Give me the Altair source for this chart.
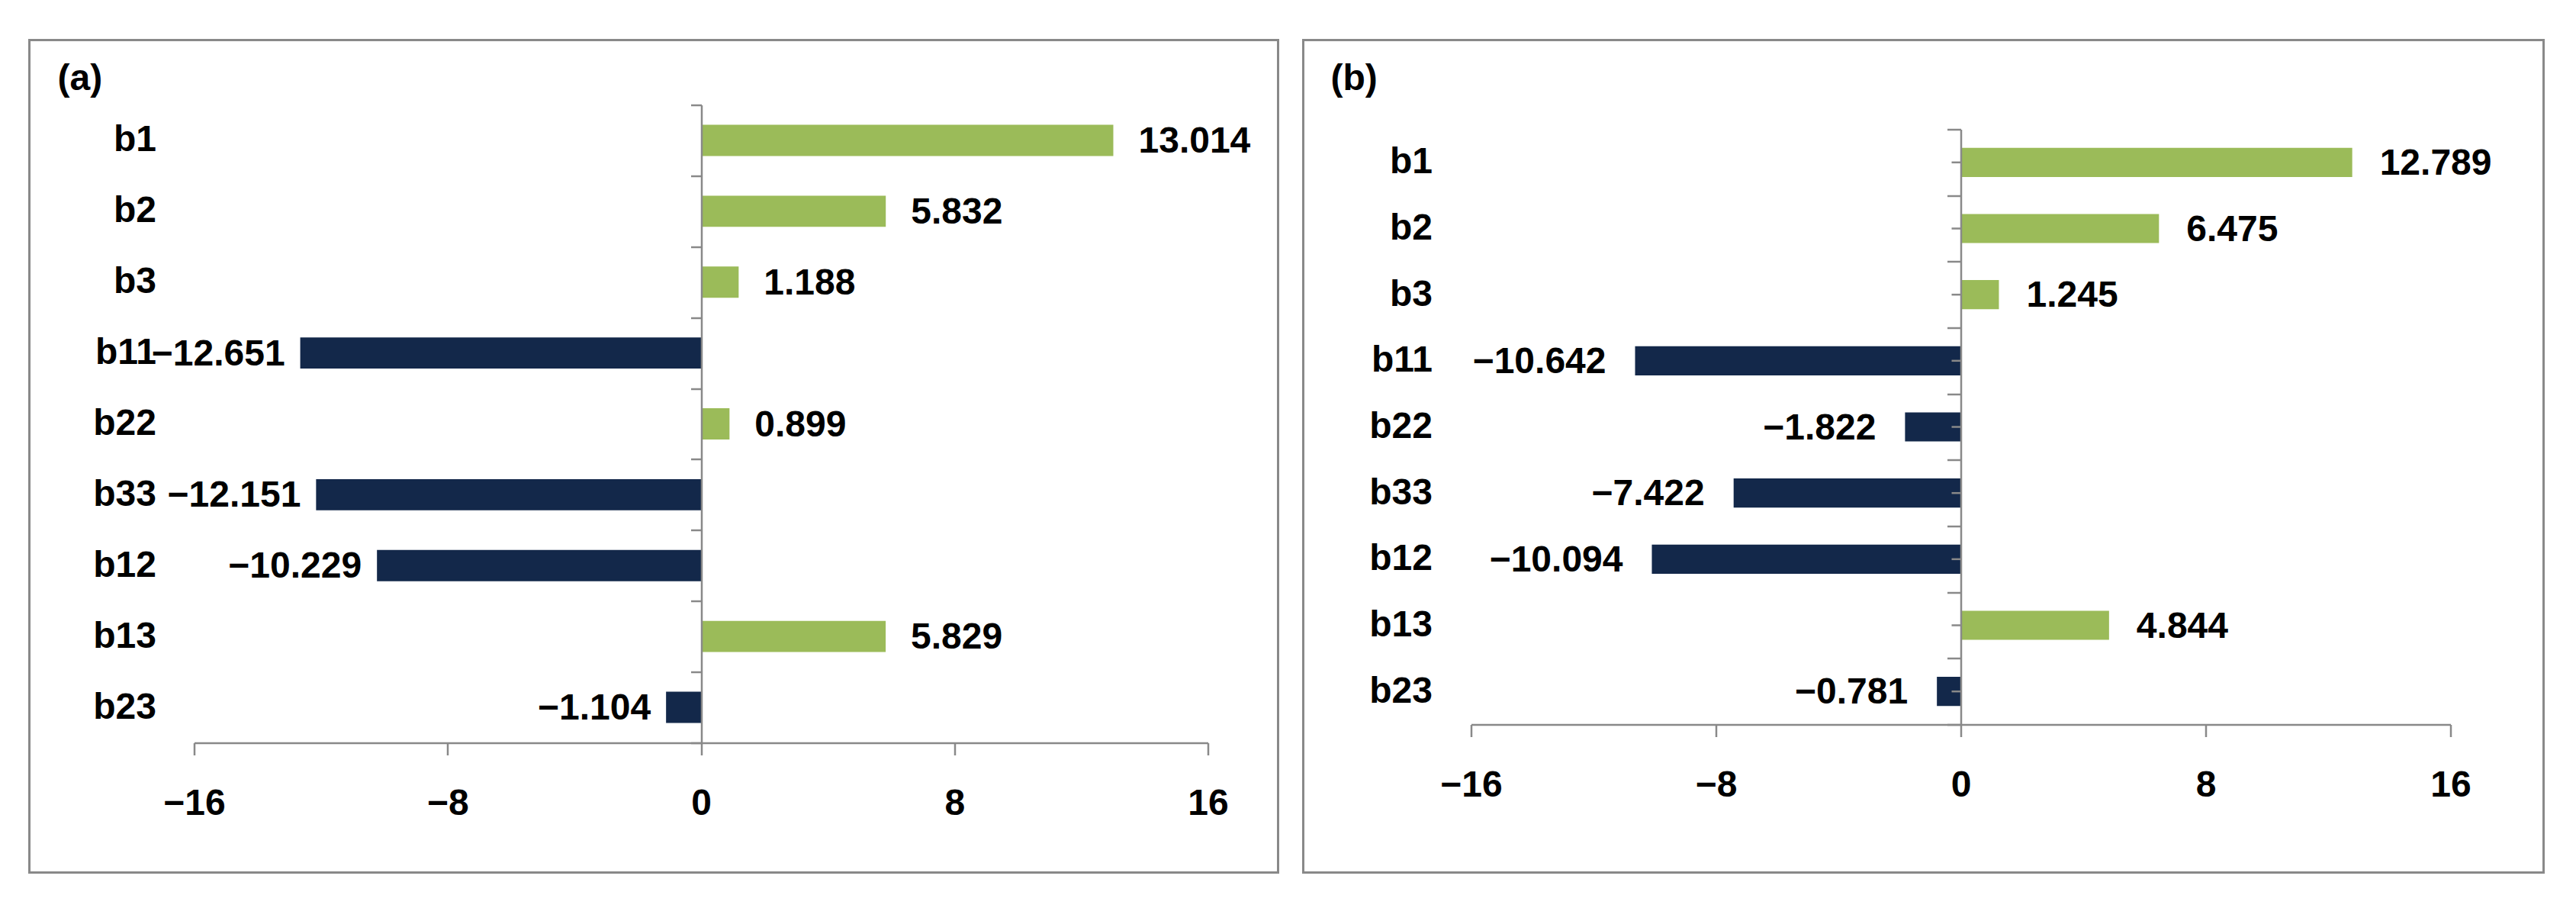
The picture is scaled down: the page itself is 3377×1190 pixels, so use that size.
import altair as alt
import pandas as pd

# ---- data ----
categories = ["b1", "b2", "b3", "b11", "b22", "b33", "b12", "b13", "b23"]
values_a = [13.014, 5.832, 1.188, -12.651, 0.899, -12.151, -10.229, 5.829, -1.104]
values_b = [12.789, 6.475, 1.245, -10.642, -1.822, -7.422, -10.094, 4.844, -0.781]
x_ticks = [-16, -8, 0, 8, 16]
panel_labels = ["(a)", "(b)"]

GREEN = "#9BBB59"
NAVY = "#13284A"
GRAY = "#898989"
FONT = "Liberation Sans"
FS = 48
BAR_BAND = 0.44


def panel(values, label, width, height, shift, zero_px, frame, label_xy,
          y_tick, y_label_pad, pos_dx, neg_dx, center_ticks):
    df = pd.DataFrame({"cat": categories, "value": values})
    base = alt.Chart(df)
    one = alt.Chart(pd.DataFrame({"k": [0]}))

    y_scale = alt.Scale(paddingInner=0, paddingOuter=0)
    x_scale = alt.Scale(domain=[x_ticks[0], x_ticks[-1]], nice=False, zero=False)

    x_axis = alt.Axis(values=x_ticks, title=None, format="d", grid=False,
                      tickSize=16, tickWidth=2.5, tickColor=GRAY,
                      domainColor=GRAY, domainWidth=2.5, labelPadding=40,
                      labelFlush=False, labelOverlap=False, labelFont=FONT,
                      labelFontSize=FS, labelFontWeight="bold", labelColor="black")
    if shift:
        x_axis = alt.Axis(values=x_ticks, title=None, format="d", grid=False,
                          offset=shift,
                          tickSize=16, tickWidth=2.5, tickColor=GRAY,
                          domainColor=GRAY, domainWidth=2.5, labelPadding=40,
                          labelFlush=False, labelOverlap=False, labelFont=FONT,
                          labelFontSize=FS, labelFontWeight="bold", labelColor="black")
    x_enc = alt.X("value:Q", scale=x_scale, axis=x_axis)
    y_enc = alt.Y(
        "cat:N", sort=categories, scale=y_scale,
        axis=alt.Axis(title=None, orient="left", offset=-zero_px, position=shift,
                      tickBand="extent",
                      tickSize=y_tick, tickWidth=2.5, tickColor=GRAY,
                      domainColor=GRAY, domainWidth=2.5, labelPadding=y_label_pad,
                      labelFont=FONT, labelFontSize=FS, labelFontWeight="bold",
                      labelColor="black", grid=False, zindex=1))

    frame_layer = one.mark_rect(fill="transparent", stroke=GRAY, strokeWidth=3).encode(
        x=alt.value(frame[0]), x2=alt.value(frame[1]),
        y=alt.value(frame[2]), y2=alt.value(frame[3]))

    bars = base.mark_bar(height=alt.RelativeBandSize(band=BAR_BAND), yOffset=shift).encode(
        x=x_enc, y=y_enc,
        color=alt.condition(alt.datum.value > 0, alt.value(GREEN), alt.value(NAVY)))

    txt = dict(baseline="middle", dy=2 + shift, font=FONT, fontSize=FS,
               fontWeight="bold", color="black")
    pos = base.transform_filter(alt.datum.value > 0).mark_text(
        align="left", dx=pos_dx, **txt).encode(
        x=x_enc, y=y_enc, text=alt.Text("value:Q", format=".3f"))
    neg = base.transform_filter(alt.datum.value < 0).mark_text(
        align="right", dx=neg_dx, **txt).encode(
        x=x_enc, y=y_enc, text=alt.Text("value:Q", format=".3f"))

    lab = one.mark_text(align="left", baseline="alphabetic", font=FONT,
                        fontSize=FS, fontWeight="bold", color="black").encode(
        x=alt.value(label_xy[0]), y=alt.value(label_xy[1]), text=alt.value(label))

    layers = [frame_layer, bars, pos, neg, lab]
    if center_ticks:
        ct = base.mark_tick(orient="horizontal", size=12, thickness=2.5,
                            color=GRAY, opacity=1, xOffset=-6, yOffset=shift).encode(
            x=alt.X(datum=0, scale=x_scale, axis=x_axis), y=y_enc)
        layers.append(ct)
    return alt.layer(*layers).properties(width=width, height=height)


pa = panel(values_a, panel_labels[0], 1329, 836, 0, 665,
           (-216, 1421, -85, 1006), (-179, -20), 14, 701, 33, -20, False)
pb = panel(values_b, panel_labels[1], 1284, 780, 32, 642,
           (-220, 1406, -85, 1006), (-184, -20), 18, 675, 36, -38, True)

chart = alt.hconcat(pa, pb, spacing=29).properties(
    padding={"left": 28.5, "top": 42.5, "right": 10, "bottom": 10}
).configure_view(stroke=None)

chart.save("out.html", embed_options={"renderer": "svg", "actions": False})
